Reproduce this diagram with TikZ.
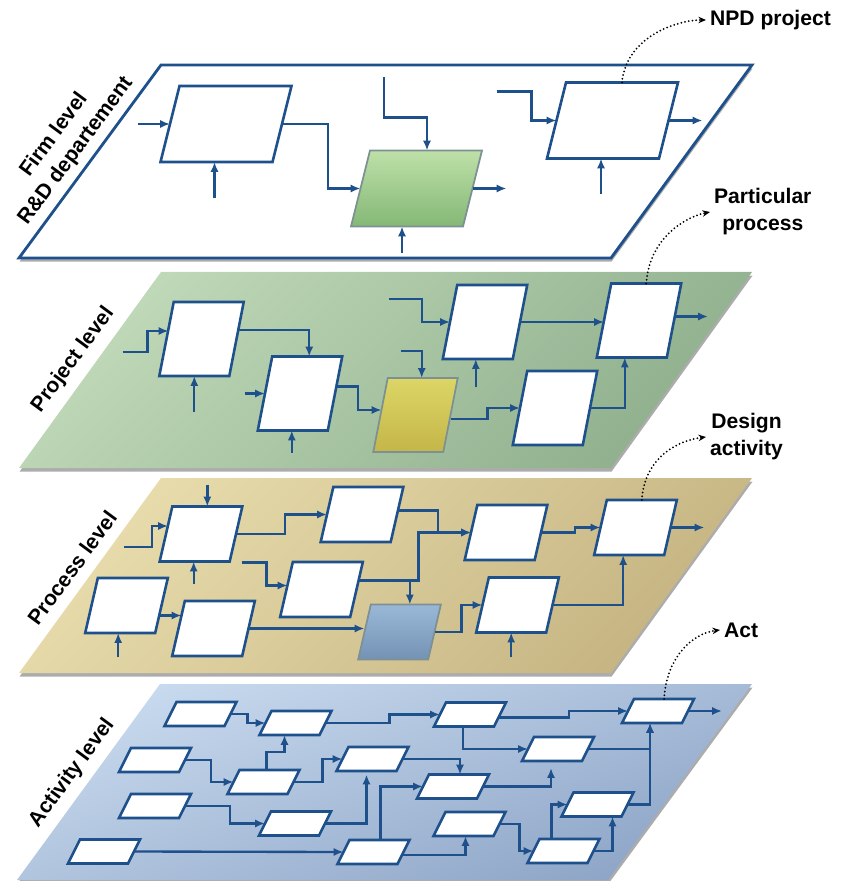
\documentclass[tikz,border=0pt]{standalone}
\usepackage{fontspec}
\setsansfont{Liberation Sans}
\definecolor{main}{RGB}{30,80,140}
\definecolor{second}{RGB}{125,145,148}
\definecolor{greenl}{RGB}{192,217,184}
\definecolor{greend}{RGB}{144,176,142}
\definecolor{sandl}{RGB}{232,220,172}
\definecolor{sandd}{RGB}{198,181,131}
\definecolor{bluel}{RGB}{200,218,238}
\definecolor{blued}{RGB}{142,165,199}
\definecolor{boxgl}{RGB}{190,224,168}
\definecolor{boxgd}{RGB}{132,184,118}
\definecolor{boxyl}{RGB}{220,214,102}
\definecolor{boxyd}{RGB}{196,182,72}
\definecolor{boxbl}{RGB}{154,184,214}
\definecolor{boxbd}{RGB}{116,146,180}
\usetikzlibrary{
	arrows.meta,
	positioning,
	shapes.geometric,
	calc,
	shadows
}
\tikzset{
  % arrow
	cstflow/.style    ={-{Latex[length=8.5pt,width=7pt]}, line width=2pt, draw=main},
	cstdot/.style     ={-{Stealth[length=6.5pt,width=5.5pt]}, line width=1.7pt, line cap=round, dash pattern=on 0pt off 3.2pt},
  % plane
	cstplane/.style   ={drop shadow={shadow xshift=0.5pt,shadow yshift=-3pt,opacity=.5,fill=black!65}},
	cstplane1/.style  ={cstplane, fill=white, draw=main, line width=2.4pt},
	cstplane2/.style  ={cstplane, top color=greenl, bottom color=greend, shading angle=45},
	cstplane3/.style  ={cstplane, top color=sandl, bottom color=sandd, shading angle=45},
	cstplane4/.style  ={cstplane, top color=bluel, bottom color=blued, shading angle=20},
  % node
	cstbox/.style     ={rectangle, fill=white, draw=main, line width=2.2pt, inner sep=0pt, outer sep=0pt},
	cstbox1/.style    ={cstbox, xslant=0.25, minimum width=3.36cm, minimum height=2.28cm},
	cstbox2/.style    ={cstbox, xslant=0.195, minimum width=2.1cm, minimum height=2.22cm},
	cstbox3/.style    ={cstbox, xslant=0.23, minimum width=2.1cm, minimum height=1.65cm},
	cstbox4/.style    ={cstbox, xslant=0.5, minimum width=1.8cm, minimum height=0.72cm},
	cstboxg/.style    ={top color=boxgl, bottom color=boxgd, draw=second, line width=1.5pt},
	cstboxy/.style    ={top color=boxyl, bottom color=boxyd, draw=second, line width=1.5pt},
	cstboxb/.style    ={top color=boxbl, bottom color=boxbd, draw=second, line width=1.5pt},
  % text
	cstlbl/.style     ={font=\sffamily\bfseries\fontsize{18}{23}\selectfont, align=center, text=black}
}

\begin{document}
\begin{tikzpicture}[x=0.03cm,y=-0.03cm]
\useasboundingbox (0,0) rectangle (841,881);
% planes
\path[cstplane1] (161,65) -- (752,65) -- (611,258) -- (19,258) -- cycle;
\path[cstplane2] (161,272) -- (752,272) -- (611,468) -- (19,468) -- cycle;
\path[cstplane3] (161,478) -- (752,478) -- (611,673) -- (19,673) -- cycle;
\path[cstplane4] (160,684) -- (752,684) -- (608,880) -- (17,880) -- cycle;
% firm level
\node[cstbox1] (f1) at (226,124) {};
\node[cstbox1, cstboxg] (f2) at (416.5,188.5) {};
\node[cstbox1] (f3) at (612.5,120.5) {};
\draw[cstflow] ($(f1.west)+(-32,0)$) -- (f1.west);
\draw[cstflow] ($(f1.south)+(-2,36)$) -- ($(f1.south)+(-2,0)$);
\draw[cstflow] (f1.east) -- ++(46,0) |- (f2.west);
\draw[cstflow] ($(f2.north)+(-42,-73)$) -- ++(0,40) -| ($(f2.north)+(1,0)$);
\draw[cstflow] (f2.east) -- ++(34,0);
\draw[cstflow] ($(f2.south)+(-5,26)$) -- ($(f2.south)+(-5,0)$);
\draw[cstflow] ($(f3.west)+(-60,-29)$) -- ++(35,0) |- (f3.west);
\draw[cstflow] (f3.east) -- ++(34,0);
\draw[cstflow] ($(f3.south)+(-2,36)$) -- ($(f3.south)+(-2,0)$);
% project level
\node[cstbox2] (p1) at (201.5,339) {};
\node[cstbox2] (p2) at (300,393.5) {};
\node[cstbox2, cstboxy] (p3) at (415.5,415) {};
\node[cstbox2] (p4) at (555,408) {};
\node[cstbox2] (p5) at (639,320.5) {};
\node[cstbox2] (p6) at (485,322) {};
\draw[cstflow] ($(p1.west)+(-44,13)$) -- ++(25,0) |- ($(p1.west)+(2,-8)$);
\draw[cstflow] ($(p1.south)+(0,36)$) -- (p1.south);
\draw[cstflow] ($(p1.east)+(2,-9)$) -| ($(p2.north)+(2,0)$);
\draw[cstflow] ($(p2.west)+(-20,0)$) -- (p2.west);
\draw[cstflow] ($(p2.south)+(-1,22)$) -- ($(p2.south)+(-1,0)$);
\draw[cstflow] ($(p2.east)+(1,-7)$) -- ++(22,0) |- ($(p3.west)+(1,-5)$);
\draw[cstflow] ($(p3.north)+(-22,-27)$) -| ($(p3.north)+(-1,0)$);
\draw[cstflow] ($(p3.east)+(0,4)$) -- ++(37,0) |- (p4.west);
\draw[cstflow] (p4.east) -| ($(p5.south)+(-7,0)$);
\draw[cstflow] ($(p6.west)+(-61,-23)$) -- ++(33,0) |- (p6.west);
\draw[cstflow] ($(p6.south)+(-2,28)$) -- ($(p6.south)+(-2,0)$);
\draw[cstflow] (p6.east) -- (p6.east -| p5.west);
\draw[cstflow] ($(p5.east)+(1,-4)$) -- ++(33,0);
% process level
\node[cstbox3] (r1) at (201,534) {};
\node[cstbox3] (r2) at (362,514.5) {};
\node[cstbox3] (r3) at (321.5,589.5) {};
\node[cstbox3] (r4) at (506,532.5) {};
\node[cstbox3] (r5) at (635.5,527.5) {};
\node[cstbox3] (r6) at (126.5,605.5) {};
\node[cstbox3] (r7) at (213.5,628.5) {};
\node[cstbox3, cstboxb] (r8) at (399.5,632) {};
\node[cstbox3] (r9) at (517.5,605) {};
\draw[cstflow] ($(r1.north)+(0,-22)$) -- (r1.north);
\draw[cstflow] ($(r1.west)+(-42,13)$) -- ++(28,0) |- ($(r1.west)+(2,-8)$);
\draw[cstflow] ($(r1.south)+(-1,22)$) -- ($(r1.south)+(-1,0)$);
\draw[cstflow] (r1.east) -- ++(49,0) |- (r2.west);
\draw[cstflow] ($(r2.east)+(1,-4)$) -- ++(40,0) |- (r4.west);
\draw[cstflow] ($(r3.east)+(2,-9)$) -- ++(60,0) |- (r4.west);
\draw[cstflow] ($(r3.east)+(2,-9)$) -| ($(r8.north)+(4,0)$);
\draw[cstflow] ($(r3.west)+(-45,-27)$) -- ++(25,0) |- ($(r3.west)+(1,-4)$);
\draw[cstflow] (r4.east) -- ++(34,0) |- (r5.west);
\draw[cstflow] (r5.east) -- ++(34,0);
\draw[cstflow] ($(r6.south)+(-2,24)$) -- ($(r6.south)+(-2,0)$);
\draw[cstflow] ($(r6.east)+(-2,10)$) -- ($(r7.west)+(3,-13)$);
\draw[cstflow] (r7.east) -- (r7.east -| r8.west);
\draw[cstflow] (r8.east) -- ++(27,0) |- (r9.west);
\draw[cstflow] ($(r9.south)+(0,24)$) -- (r9.south);
\draw[cstflow] (r9.east) -| ($(r5.south)+(-6,0)$);
% activity level
\node[cstbox4] (a1) at (200.5,714) {};
\node[cstbox4] (a2) at (295.5,723) {};
\node[cstbox4] (a3) at (470,714.5) {};
\node[cstbox4] (a4) at (658,711) {};
\node[cstbox4] (a5) at (558,749) {};
\node[cstbox4] (a6) at (155,760) {};
\node[cstbox4] (a7) at (263.5,782) {};
\node[cstbox4] (a8) at (372.5,759) {};
\node[cstbox4] (a9) at (453,786.5) {};
\node[cstbox4] (a10) at (155,806) {};
\node[cstbox4] (a11) at (295,823.5) {};
\node[cstbox4] (a12) at (104,851.5) {};
\node[cstbox4] (a13) at (373.5,852) {};
\node[cstbox4] (a14) at (469.5,824) {};
\node[cstbox4] (a15) at (563.5,851) {};
\node[cstbox4] (a16) at (597.5,804.5) {};
\draw[cstflow] (a1.east) -- ++(17,0) |- (a2.west);
\draw[cstflow] (a2.east) -- ++(64,0) |- (a3.west);
\draw[cstflow] ($(a3.east)+(-1,3)$) -- ++(70,0) |- (a4.west);
\draw[cstflow] (a4.east) -- ++(34,0);
\draw[cstflow] ($(a3.south)+(-1,0)$) |- (a5.west);
\draw[cstflow] (a5.east) -| ($(a4.south)+(-2,0)$);
\draw[cstflow] (a6.east) -- ++(26,0) |- (a7.west);
\draw[cstflow] ($(a7.north)+(-3,0)$) -- ++(0,-18) -| ($(a2.south)+(-5,0)$);
\draw[cstflow] (a7.east) -- ++(29,0) |- (a8.west);
\draw[cstflow] (a8.east) -| ($(a9.north)+(1,0)$);
\draw[cstflow, shorten >=6pt] (a9.east) -| ($(a5.south)+(-1,0)$);
\draw[cstflow] (a10.east) -- ++(45,0) |- (a11.west);
\draw[cstflow, shorten >=3pt] (a11.east) -| (a8.south);
\draw[cstflow] (a12.east) -- (a13.west);
\draw[cstflow] ($(a13.north)+(1,0)$) |- (a9.west);
\draw[cstflow] ($(a13.east)+(-1,3)$) -| ($(a14.south)+(2,0)$);
\draw[cstflow] (a14.east) -- ++(20,0) |- (a15.west);
\draw[cstflow] ($(a15.north)+(-18,0)$) |- (a16.west);
\draw[cstflow] (a15.east) -| ($(a16.south)+(21,0)$);
\draw[cstflow] (a16.east) -| ($(a4.south)+(-2,0)$);
% labels
\node[cstlbl, rotate=53.6] (lblfirm) at (65,143) {Firm level\\R\&D departement};
\node[cstlbl, rotate=53.6] (lblproj) at (73,360) {Project level};
\node[cstlbl, rotate=53.6] (lblproc) at (72,568) {Process level};
\node[cstlbl, rotate=53.6] (lblact) at (72,773) {Activity level};
\node[cstlbl, anchor=west] (lblnpd) at (706,20) {NPD project};
\node[cstlbl, anchor=west] (lblpart) at (710,212) {Particular\\process};
\node[cstlbl, anchor=west] (lbldes) at (706,437) {Design\\activity};
\node[cstlbl, anchor=west] (lblonly) at (720,630) {Act};
\draw[cstdot] (f3.north) .. controls +(4,-45) and +(-30,0) .. (lblnpd.west);
\draw[cstdot] (p5.north) .. controls +(3,-45) and +(-25,5) .. (lblpart.west);
\draw[cstdot] (r5.north) .. controls +(3,-45) and +(-25,3) .. (lbldes.west);
\draw[cstdot] (a4.north) .. controls +(3,-45) and +(-25,3) .. (lblonly.west);
\end{tikzpicture}
\end{document}
